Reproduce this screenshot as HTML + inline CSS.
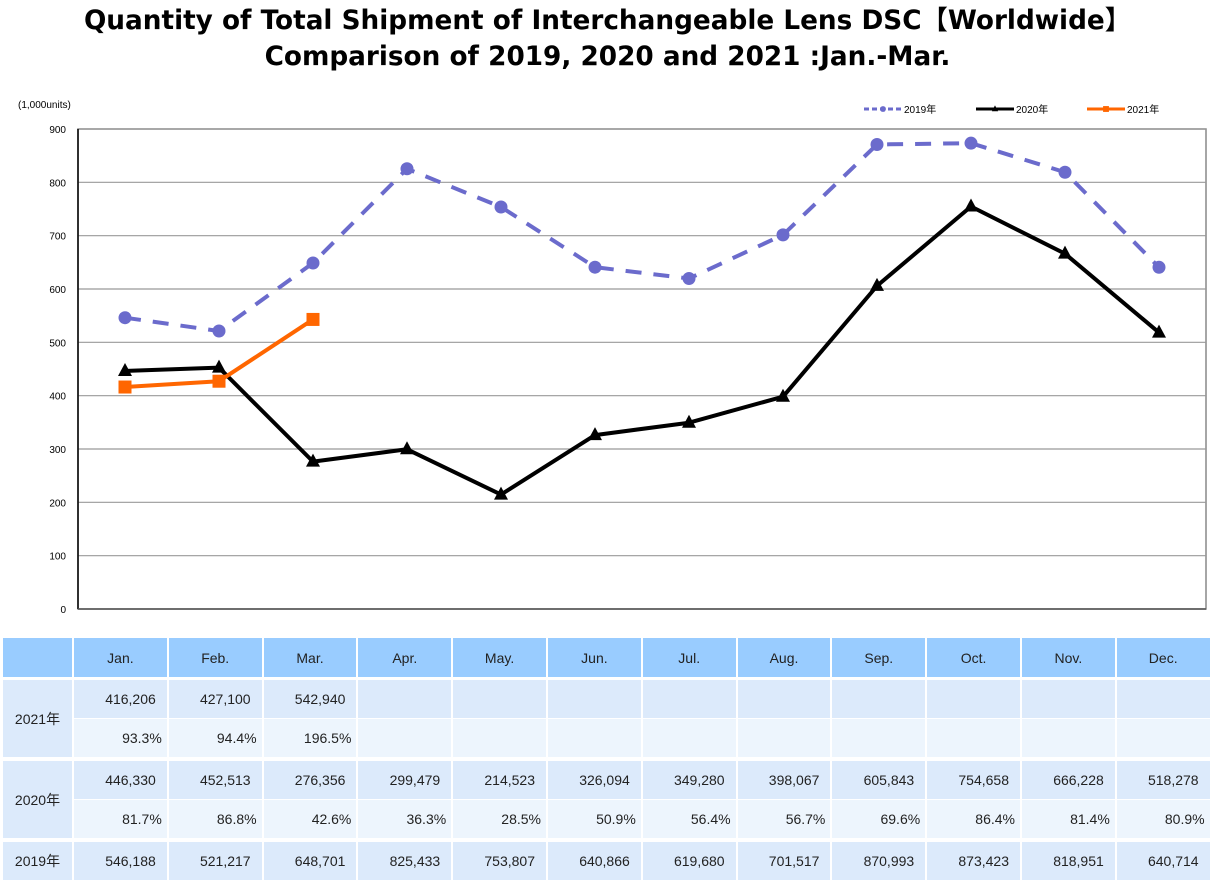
<!DOCTYPE html>
<html><head><meta charset="utf-8"><style>
body{margin:0;width:1215px;height:883px;background:#fff;font-family:"Liberation Sans","Noto Sans CJK JP",sans-serif;position:relative;overflow:hidden}
.t{position:absolute;left:0;width:1215px;text-align:center;font-weight:bold;font-size:26.3px;line-height:32px;color:#000;font-family:"DejaVu Sans","Noto Sans CJK JP",sans-serif}
.c{position:absolute;box-sizing:border-box;font-size:14px;color:#222;display:flex;align-items:center}
</style></head><body>
<div class="t" style="top:5px">Quantity of Total Shipment of Interchangeable Lens DSC【Worldwide】</div>
<div class="t" style="top:41px">Comparison of 2019, 2020 and 2021 :Jan.-Mar.</div>
<svg id="chart" width="1215" height="630" style="position:absolute;left:0;top:0"></svg>
<div id="table"></div>
<script>
const months=["Jan.","Feb.","Mar.","Apr.","May.","Jun.","Jul.","Aug.","Sep.","Oct.","Nov.","Dec."];
const yTicks=[0,100,200,300,400,500,600,700,800,900];
const s2019=[546188,521217,648701,825433,753807,640866,619680,701517,870993,873423,818951,640714];
const s2020=[446330,452513,276356,299479,214523,326094,349280,398067,605843,754658,666228,518278];
const s2021=[416206,427100,542940];
const p2020=["81.7%","86.8%","42.6%","36.3%","28.5%","50.9%","56.4%","56.7%","69.6%","86.4%","81.4%","80.9%"];
const p2021=["93.3%","94.4%","196.5%"];
const NS="http://www.w3.org/2000/svg";
const svg=document.getElementById('chart');
const L=78,R=1206,T=129,B=609,YMAX=900;
const x=i=>L+(R-L)/12*(i+0.5);
const y=v=>B-(v/1000)/YMAX*(B-T);
const yt=v=>B-v/YMAX*(B-T);
function mk(tag,at){const e=document.createElementNS(NS,tag);for(const k in at)e.setAttribute(k,at[k]);svg.appendChild(e);return e;}
mk('rect',{x:L,y:T,width:R-L,height:B-T,fill:'none',stroke:'#888','stroke-width':1.5});
yTicks.forEach(v=>{
 const g=mk('line',{x1:L,x2:R,y1:yt(v),y2:yt(v),stroke:'#999','stroke-width':1.2});
 
 
 const t=mk('text',{x:66,y:yt(v)+4,'text-anchor':'end','font-size':10,fill:'#000'});
 t.textContent=v;
 
 
});
mk('line',{x1:L,x2:L,y1:T,y2:B,stroke:'#000','stroke-width':1.5});
mk('line',{x1:L,x2:R,y1:B,y2:B,stroke:'#555','stroke-width':1.5});
const u=mk('text',{x:18,y:108,'font-size':10,fill:'#000'});u.textContent='(1,000units)';


function series(data,color,dash,marker,name){
 const pts=data.map((v,i)=>x(i)+','+y(v)).join(' ');
 const pl=mk('polyline',{points:pts,fill:'none',stroke:color,'stroke-width':4,'stroke-dasharray':dash||'none','stroke-linejoin':'round'});
 
 
 data.forEach((v,i)=>{drawMarker(x(i),y(v),color,marker,name);});
}
function drawMarker(cx,cy,color,marker,name,sc){
 sc=sc||1;let m;
 if(marker==='c')m=mk('circle',{cx,cy,r:6.5*sc,fill:color});
 else if(marker==='t')m=mk('polygon',{points:`${cx},${cy-8*sc} ${cx-7*sc},${cy+5*sc} ${cx+7*sc},${cy+5*sc}`,fill:color});
 else m=mk('rect',{x:cx-6.5*sc,y:cy-6.5*sc,width:13*sc,height:13*sc,fill:color});
 
 
}
series(s2019,'#6B6BCC','16 12','c','series-2019');
series(s2020,'#000','','t','series-2020');
series(s2021,'#FF6600','','s','series-2021');
[['2019年','#6B6BCC','5 3','c',864],['2020年','#000','','t',976],['2021年','#FF6600','','s',1087]].forEach(d=>{
 const l=mk('line',{x1:d[4],x2:d[4]+38,y1:109,y2:109,stroke:d[1],'stroke-width':3,'stroke-dasharray':d[2]||'none'});
 
 
 drawMarker(d[4]+19,109,d[1],d[3],'legend',0.45);
 const t=mk('text',{x:d[4]+40,y:113,'font-size':10,fill:'#000'});t.textContent=d[0];
 
 
});
const tb=document.getElementById('table');
const colX=i=>74+i*94.8;
function cell(l,t,w,h,bg,txt,align,pad,name){
 const d=document.createElement('div');d.className='c';
 d.style.cssText=`left:${l}px;top:${t}px;width:${w}px;height:${h}px;background:${bg};justify-content:${align};padding-right:${pad}px`;
 d.textContent=txt||'';
 
 
 tb.appendChild(d);
}
const HB='#99CCFF',VB='#DCEAFB',PB='#EDF5FD';
cell(3,638,69,39,HB,'','center',0,'header-corner');
months.forEach((m,i)=>cell(colX(i),638,92.8,39,HB,m,'center',0,'month-header'));
cell(3,680,69,77,VB,'2021年','center',0,'row-label-2021');
cell(3,761,69,77,VB,'2020年','center',0,'row-label-2020');
cell(3,842,69,38,VB,'2019年','center',0,'row-label-2019');
const fmt=v=>v.toLocaleString('en-US');
months.forEach((m,i)=>{
 cell(colX(i),680,92.8,38,VB,s2021[i]!==undefined?fmt(s2021[i]):'','flex-end',11,'value-2021');
 cell(colX(i),719,92.8,38,PB,p2021[i]||'','flex-end',5,'pct-2021');
 cell(colX(i),761,92.8,38,VB,fmt(s2020[i]),'flex-end',11,'value-2020');
 cell(colX(i),800,92.8,38,PB,p2020[i],'flex-end',5,'pct-2020');
 cell(colX(i),842,92.8,38,VB,fmt(s2019[i]),'flex-end',11,'value-2019');
});
</script>
</body></html>
